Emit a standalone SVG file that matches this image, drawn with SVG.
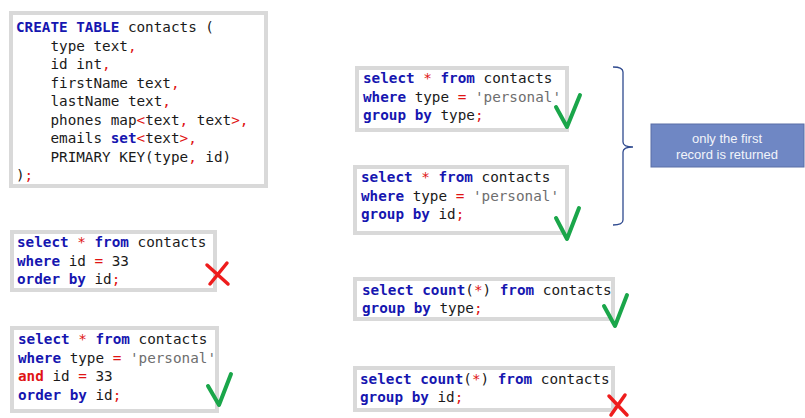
<svg xmlns="http://www.w3.org/2000/svg" width="805" height="418" viewBox="0 0 805 418">
<style>
.box{fill:#fff;stroke:#d9d9d9;stroke-width:4}
.code{font-family:"DejaVu Sans Mono",monospace;font-size:14.3px;fill:#1a1a1a;white-space:pre}
.k{fill:#1616b0;font-weight:bold}
.p{fill:#e01414}
.s{fill:#6e6e6e}
.ok{fill:none;stroke:#1aa64a;stroke-width:4;stroke-linecap:round;stroke-linejoin:round}
.no{fill:none;stroke:#ee1c1c;stroke-width:3.5;stroke-linecap:round}
.brace{fill:none;stroke:#2f4a8f;stroke-width:1.3}
.note{fill:#6f87c4;stroke:#5a6ea6;stroke-width:1}
.notetxt{font-family:"Liberation Sans",Arial,sans-serif;font-size:13px;fill:#f2f4fa;text-anchor:middle}
</style>
<rect width="805" height="418" fill="#fff"/>
<g id="create-table">
<rect class="box" x="11" y="13" width="255" height="173"/>
<text class="code" x="16" y="32"><tspan class="k">CREATE TABLE</tspan> contacts (</text>
<text class="code" x="16" y="50.5">    type text<tspan class="p">,</tspan></text>
<text class="code" x="16" y="69">    id int<tspan class="p">,</tspan></text>
<text class="code" x="16" y="87.5">    firstName text<tspan class="p">,</tspan></text>
<text class="code" x="16" y="106">    lastName text<tspan class="p">,</tspan></text>
<text class="code" x="16" y="124.5">    phones map<tspan class="p">&lt;</tspan>text<tspan class="p">,</tspan> text<tspan class="p">&gt;,</tspan></text>
<text class="code" x="16" y="143">    emails <tspan class="k">set</tspan><tspan class="p">&lt;</tspan>text<tspan class="p">&gt;,</tspan></text>
<text class="code" x="16" y="161.5">    PRIMARY KEY(type<tspan class="p">,</tspan> id)</text>
<text class="code" x="16" y="180">)<tspan class="p">;</tspan></text>
</g>
<g id="q-order-id">
<rect class="box" x="12" y="232" width="203" height="58"/>
<text class="code" x="17" y="247"><tspan class="k">select</tspan> <tspan class="p">*</tspan> <tspan class="k">from</tspan> contacts</text>
<text class="code" x="17" y="265.5"><tspan class="k">where</tspan> id <tspan class="p">=</tspan> 33</text>
<text class="code" x="17" y="284"><tspan class="k">order by</tspan> id<tspan class="p">;</tspan></text>
<path class="no" d="M207,265 L228,284 M227,263 L210,284"/>
</g>
<g id="q-type-and-id">
<rect class="box" x="12" y="328" width="205" height="83"/>
<text class="code" x="18" y="344"><tspan class="k">select</tspan> <tspan class="p">*</tspan> <tspan class="k">from</tspan> contacts</text>
<text class="code" x="18" y="362.5"><tspan class="k">where</tspan> type <tspan class="p">=</tspan> <tspan class="s">'personal'</tspan></text>
<text class="code" x="18" y="381"><tspan class="p" font-weight="bold">and</tspan> id <tspan class="p">=</tspan> 33</text>
<text class="code" x="18" y="399.5"><tspan class="k">order by</tspan> id<tspan class="p">;</tspan></text>
<path class="ok" d="M208,386 L219,405 L231,374"/>
</g>
<g id="q-group-type">
<rect class="box" x="357" y="68" width="210" height="62"/>
<text class="code" x="363" y="83"><tspan class="k">select</tspan> <tspan class="p">*</tspan> <tspan class="k">from</tspan> contacts</text>
<text class="code" x="363" y="101.5"><tspan class="k">where</tspan> type <tspan class="p">=</tspan> <tspan class="s">'personal'</tspan></text>
<text class="code" x="363" y="120"><tspan class="k">group by</tspan> type<tspan class="p">;</tspan></text>
<path class="ok" d="M556,107 L567,127 L580,95"/>
</g>
<g id="q-group-id">
<rect class="box" x="355" y="167" width="212" height="66"/>
<text class="code" x="361" y="182"><tspan class="k">select</tspan> <tspan class="p">*</tspan> <tspan class="k">from</tspan> contacts</text>
<text class="code" x="361" y="200.5"><tspan class="k">where</tspan> type <tspan class="p">=</tspan> <tspan class="s">'personal'</tspan></text>
<text class="code" x="361" y="219"><tspan class="k">group by</tspan> id<tspan class="p">;</tspan></text>
<path class="ok" d="M556,218 L567,239 L579,208"/>
</g>
<g id="q-count-type">
<rect class="box" x="355" y="279" width="258" height="40"/>
<text class="code" x="362" y="295"><tspan class="k">select count</tspan>(<tspan class="p">*</tspan>) <tspan class="k">from</tspan> contacts</text>
<text class="code" x="362" y="313"><tspan class="k">group by</tspan> type<tspan class="p">;</tspan></text>
<path class="ok" d="M604,306 L615,326 L627,295"/>
</g>
<g id="q-count-id">
<rect class="box" x="355" y="368" width="258" height="42"/>
<text class="code" x="360" y="384"><tspan class="k">select count</tspan>(<tspan class="p">*</tspan>) <tspan class="k">from</tspan> contacts</text>
<text class="code" x="360" y="402"><tspan class="k">group by</tspan> id<tspan class="p">;</tspan></text>
<path class="no" d="M609,396 L627,415 M625,395 L611,415"/>
</g>
<g id="connectors">
<path class="brace" d="M613,67 Q623,67 623,72 L623,142 Q623,147 633,147 Q623,147 623,152 L623,220 Q623,225 613,225"/>
</g>
<g id="note">
<rect class="note" x="651" y="124" width="153" height="43"/>
<text class="notetxt" x="727" y="143">only the first</text>
<text class="notetxt" x="727" y="158.5">record is returned</text>
</g>
</svg>
